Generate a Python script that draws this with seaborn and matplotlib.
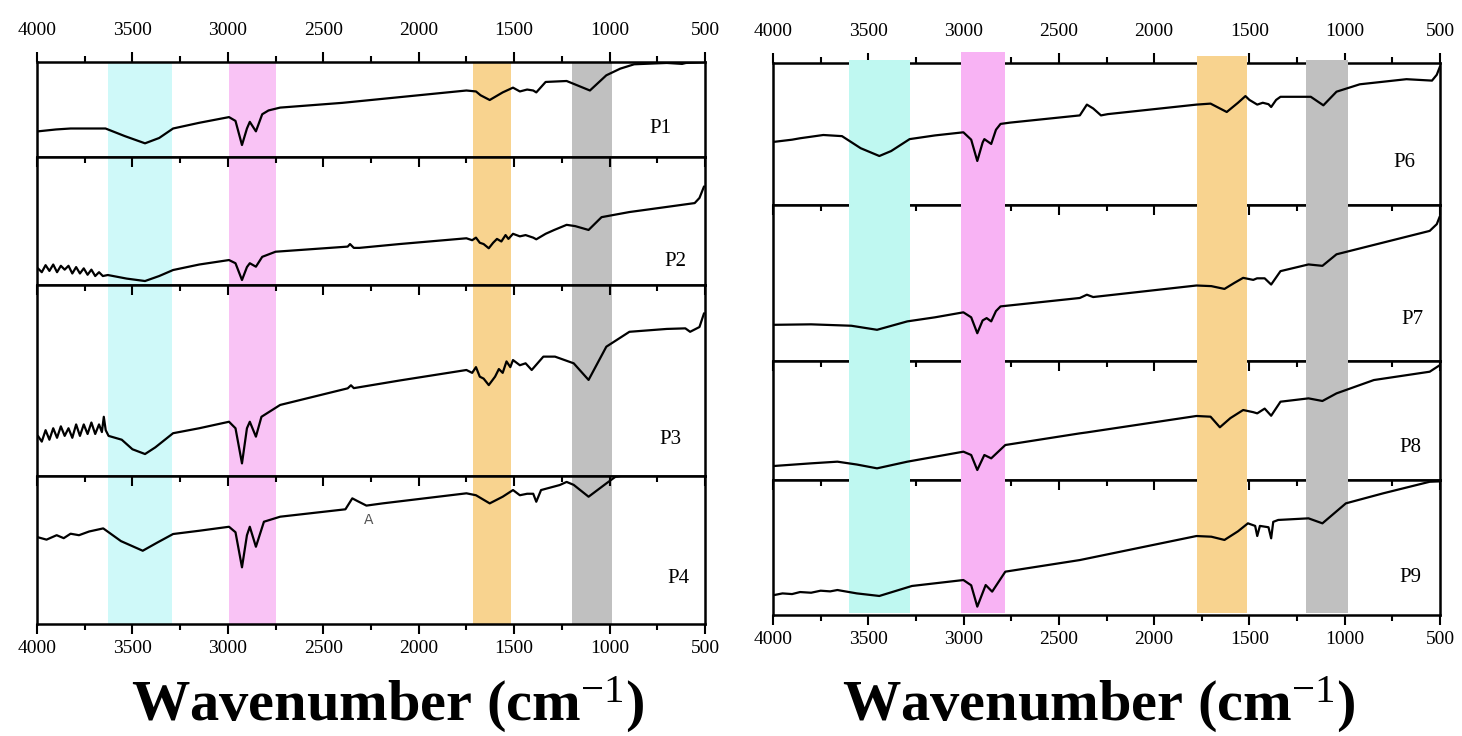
import matplotlib
matplotlib.use('Agg')
import matplotlib.pyplot as plt
from matplotlib.ticker import MultipleLocator
import pandas as pd
import seaborn as sns

# ---------------- data (y = fraction of sub-panel height) -------------
P1_wn = [3995, 3900, 3824, 3700, 3641, 3540, 3434, 3360, 3287, 3150, 2994, 2960, 2926, 2900, 2885, 2853,
         2820, 2787, 2726, 2400, 2100, 1750, 1700, 1676, 1628, 1560, 1506, 1470, 1432, 1400, 1384, 1335,
         1225, 1176, 1103, 1017, 944, 871, 700, 620, 600, 505]
P1_t = [0.27, 0.29, 0.30, 0.30, 0.30, 0.22, 0.144, 0.20, 0.30, 0.36, 0.42, 0.38, 0.126, 0.30, 0.37, 0.27,
        0.45, 0.49, 0.52, 0.57, 0.63, 0.70, 0.69, 0.65, 0.60, 0.68, 0.73, 0.69, 0.71, 0.70, 0.68, 0.79,
        0.80, 0.76, 0.70, 0.86, 0.93, 0.976, 0.99, 0.98, 0.99, 0.997]

P2_wn = [3995, 3975, 3955, 3935, 3915, 3895, 3875, 3855, 3835, 3815, 3795, 3775, 3755, 3735, 3715, 3695,
         3675, 3655, 3629, 3530, 3434, 3360, 3287, 3150, 2994, 2960, 2926, 2900, 2885, 2853, 2820, 2750,
         2372, 2360, 2340, 2311, 2100, 1750, 1720, 1700, 1680, 1660, 1633, 1610, 1590, 1567, 1545, 1530,
         1506, 1470, 1440, 1400, 1384, 1335, 1290, 1225, 1180, 1110, 1042, 896, 700, 554, 529, 505]
P2_t = [0.13, 0.10, 0.155, 0.11, 0.16, 0.10, 0.15, 0.12, 0.15, 0.09, 0.14, 0.09, 0.13, 0.08, 0.12, 0.07,
        0.10, 0.07, 0.078, 0.05, 0.031, 0.07, 0.117, 0.16, 0.195, 0.17, 0.039, 0.14, 0.17, 0.143, 0.22, 0.26,
        0.30, 0.32, 0.29, 0.29, 0.32, 0.365, 0.35, 0.37, 0.33, 0.32, 0.287, 0.33, 0.36, 0.34, 0.39, 0.36,
        0.40, 0.38, 0.39, 0.37, 0.357, 0.40, 0.43, 0.47, 0.46, 0.43, 0.53, 0.57, 0.61, 0.64, 0.68, 0.77]

P3_wn = [3995, 3975, 3955, 3935, 3915, 3895, 3875, 3855, 3835, 3815, 3795, 3775, 3755, 3735, 3715, 3695,
         3675, 3660, 3650, 3640, 3625, 3556, 3500, 3434, 3380, 3287, 3150, 2994, 2960, 2926, 2900, 2885,
         2853, 2824, 2726, 2372, 2355, 2340, 2100, 1750, 1720, 1700, 1680, 1660, 1633, 1600, 1580, 1560,
         1540, 1520, 1506, 1470, 1440, 1408, 1347, 1286, 1188, 1110, 1017, 896, 700, 603, 578, 529, 505]
P3_t = [0.21, 0.18, 0.24, 0.19, 0.25, 0.20, 0.26, 0.21, 0.25, 0.20, 0.27, 0.21, 0.27, 0.22, 0.28, 0.22,
        0.27, 0.23, 0.31, 0.24, 0.21, 0.19, 0.14, 0.115, 0.15, 0.224, 0.25, 0.284, 0.25, 0.066, 0.25, 0.284,
        0.206, 0.31, 0.372, 0.459, 0.475, 0.46, 0.50, 0.555, 0.54, 0.57, 0.52, 0.51, 0.476, 0.52, 0.56, 0.54,
        0.60, 0.57, 0.607, 0.58, 0.59, 0.555, 0.625, 0.625, 0.59, 0.503, 0.677, 0.755, 0.77, 0.773, 0.755,
        0.78, 0.852]

P4_wn = [3995, 3950, 3897, 3860, 3824, 3780, 3727, 3653, 3560, 3446, 3370, 3287, 3150, 2994, 2960, 2926,
         2900, 2885, 2853, 2811, 2726, 2384, 2348, 2320, 2274, 2189, 1750, 1700, 1628, 1560, 1506, 1470,
         1432, 1400, 1384, 1359, 1261, 1225, 1188, 1110, 1017, 969, 940, 500]
P4_t = [0.586, 0.57, 0.60, 0.58, 0.61, 0.60, 0.625, 0.646, 0.56, 0.495, 0.55, 0.608, 0.63, 0.657, 0.62, 0.383,
        0.60, 0.657, 0.522, 0.691, 0.725, 0.775, 0.849, 0.83, 0.80, 0.815, 0.883, 0.87, 0.815, 0.86, 0.905, 0.87,
        0.88, 0.88, 0.826, 0.905, 0.939, 0.96, 0.94, 0.86, 0.95, 0.995, 1.0, 1.0]

P6_wn = [3993, 3900, 3858, 3736, 3638, 3540, 3442, 3380, 3283, 3150, 3001, 2960, 2928, 2900, 2891, 2855,
         2830, 2806, 2757, 2390, 2353, 2320, 2279, 2243, 1778, 1704, 1619, 1560, 1521, 1500, 1459, 1430,
         1400, 1386, 1360, 1337, 1178, 1112, 1043, 921, 676, 542, 517, 500]
P6_t = [0.445, 0.46, 0.47, 0.493, 0.485, 0.40, 0.345, 0.38, 0.464, 0.49, 0.512, 0.46, 0.31, 0.44, 0.464, 0.43,
        0.53, 0.571, 0.58, 0.631, 0.707, 0.68, 0.631, 0.64, 0.707, 0.714, 0.655, 0.72, 0.767, 0.74, 0.707, 0.72,
        0.71, 0.69, 0.74, 0.762, 0.762, 0.702, 0.798, 0.85, 0.886, 0.876, 0.917, 0.976]

P7_wn = [3993, 3800, 3589, 3454, 3295, 3150, 3001, 2960, 2928, 2900, 2879, 2855, 2830, 2806, 2390, 2353,
         2320, 1778, 1700, 1631, 1580, 1533, 1480, 1460, 1420, 1386, 1337, 1190, 1117, 1043, 554, 517, 500]
P7_t = [0.232, 0.235, 0.226, 0.20, 0.254, 0.28, 0.312, 0.28, 0.178, 0.26, 0.275, 0.254, 0.32, 0.35, 0.404, 0.425,
        0.41, 0.484, 0.48, 0.462, 0.50, 0.533, 0.52, 0.53, 0.53, 0.49, 0.576, 0.619, 0.61, 0.684, 0.834, 0.877, 0.93]

P8_wn = [3993, 3800, 3662, 3560, 3454, 3295, 3001, 2960, 2928, 2891, 2855, 2781, 2390, 2353, 1778, 1704,
         1655, 1600, 1533, 1480, 1459, 1420, 1386, 1337, 1190, 1117, 1043, 847, 554, 500]
P8_t = [0.118, 0.14, 0.154, 0.13, 0.098, 0.154, 0.238, 0.21, 0.084, 0.21, 0.182, 0.294, 0.392, 0.40, 0.538, 0.532,
        0.443, 0.52, 0.588, 0.57, 0.56, 0.60, 0.54, 0.658, 0.686, 0.664, 0.728, 0.84, 0.91, 0.966]

P9_wn = [3993, 3950, 3900, 3858, 3800, 3750, 3700, 3662, 3560, 3442, 3271, 3001, 2960, 2928, 2884, 2850,
         2781, 2390, 1778, 1700, 1631, 1560, 1508, 1470, 1459, 1445, 1400, 1386, 1375, 1349, 1190, 1117,
         994, 799, 554, 500]
P9_t = [0.148, 0.16, 0.155, 0.17, 0.165, 0.18, 0.175, 0.185, 0.16, 0.141, 0.215, 0.259, 0.22, 0.062, 0.222, 0.173,
        0.321, 0.407, 0.585, 0.58, 0.556, 0.62, 0.679, 0.66, 0.585, 0.66, 0.65, 0.568, 0.69, 0.704, 0.716, 0.679,
        0.827, 0.901, 0.987, 0.99]

left_names = ['P1', 'P2', 'P3', 'P4']
right_names = ['P6', 'P7', 'P8', 'P9']
spectra = {'P1': (P1_wn, P1_t), 'P2': (P2_wn, P2_t), 'P3': (P3_wn, P3_t), 'P4': (P4_wn, P4_t),
           'P6': (P6_wn, P6_t), 'P7': (P7_wn, P7_t), 'P8': (P8_wn, P8_t), 'P9': (P9_wn, P9_t)}

left_bands = [(3628, 3293), (2994, 2748), (1716, 1516), (1197, 987)]
right_bands = [(3601, 3281), (3013, 2782), (1775, 1513), (1203, 983)]
left_band_colors = ['#cff9f9', '#f9c3f5', '#f8d38f', '#c0c0c0']
right_band_colors = ['#bff8f1', '#f8b3f4', '#f8d38f', '#c0c0c0']

tick_values = [4000, 3500, 3000, 2500, 2000, 1500, 1000, 500]
xlabel_text = 'Wavenumber (cm$^{-1}$)'

# ---------------- style ----------------
sns.set_theme(style='ticks')
plt.rcParams['font.family'] = ['Liberation Serif', 'DejaVu Serif']
plt.rcParams['mathtext.fontset'] = 'custom'
plt.rcParams['mathtext.rm'] = 'Liberation Serif'
plt.rcParams['mathtext.it'] = 'Liberation Serif:italic'
plt.rcParams['mathtext.bf'] = 'Liberation Serif:bold'

W, H = 1462, 736
fig = plt.figure(figsize=(W / 100, H / 100), dpi=100)

panels = [
    dict(x0=37, x1=705, bounds=[62, 157, 285, 476, 624], names=left_names, bands=left_bands,
         colors=left_band_colors, cover=False,
         labpos=[(0.933, 0.305), (0.955, 0.18), (0.948, 0.19), (0.96, 0.31)], xlab=388),
    dict(x0=773, x1=1440, bounds=[63, 205, 361, 480, 615], names=right_names, bands=right_bands,
         colors=right_band_colors, cover=True,
         labpos=[(0.947, 0.30), (0.958, 0.265), (0.955, 0.277), (0.955, 0.28)], xlab=1099),
]

for p in panels:
    n = len(p['names'])
    for i, name in enumerate(p['names']):
        b0, b1 = p['bounds'][i], p['bounds'][i + 1]
        hpx = b1 - b0
        ax = fig.add_axes([p['x0'] / W, 1 - b1 / H, (p['x1'] - p['x0']) / W, hpx / H])
        wn, t = spectra[name]
        df = pd.DataFrame({'wn': wn, 't': t})
        sns.lineplot(data=df, x='wn', y='t', ax=ax, color='black', linewidth=1.6,
                     estimator=None, sort=False, zorder=3)
        ax.set_xlim(4000, 500)
        ax.set_ylim(0, 1)
        ax.set_xlabel('')
        ax.set_ylabel('')
        ax.set_yticks([])

        # shaded bands
        e = 2.0 / hpx
        for k, ((hi, lo), col) in enumerate(zip(p['bands'], p['colors'])):
            if p['cover']:
                ymin = e if i == n - 1 else -e
                ymax = 1 + e
                if i == 0:
                    ymax = 1 + [1.0, 9.0, 5.0, 1.0][k] / hpx + e
                ax.axvspan(hi, lo, ymin=ymin, ymax=ymax, color=col, lw=0, zorder=2.6, clip_on=False)
            else:
                ax.axvspan(hi, lo, color=col, lw=0, zorder=1)
        ax.set_axisbelow(p['cover'])

        for s in ax.spines.values():
            s.set_linewidth(1.8)
            s.set_color('black')

        ax.set_xticks(tick_values)
        ax.xaxis.set_minor_locator(MultipleLocator(250))
        ax.tick_params(axis='x', which='both', bottom=False, top=True, labelbottom=False,
                       labeltop=(i == 0), direction='out' if i == 0 else 'in',
                       width=1.5, color='black', labelsize=14, pad=9, labelcolor='black')
        ax.tick_params(axis='x', which='major', length=7.5)
        ax.tick_params(axis='x', which='minor', length=4)

        lx, ly = p['labpos'][i]
        ax.text(lx, ly, name, transform=ax.transAxes, ha='center', va='center', fontsize=15,
                color='black', zorder=5)

        if name == 'P4':
            ax.text(2262, 0.70, 'A', ha='center', va='center', fontsize=10, color='#555555',
                    family='DejaVu Sans', zorder=5)

        if i == n - 1:
            sec = ax.secondary_xaxis('bottom')
            sec.set_xticks(tick_values)
            sec.xaxis.set_minor_locator(MultipleLocator(250))
            sec.tick_params(axis='x', which='both', direction='out', width=1.5, color='black',
                            labelsize=14, pad=4, labelcolor='black')
            sec.tick_params(axis='x', which='major', length=7.5)
            sec.tick_params(axis='x', which='minor', length=4)
            sec.spines['bottom'].set_visible(False)

    fig.text(p['xlab'] / W, 1 - 721 / H, xlabel_text, ha='center', va='baseline',
             fontsize=42, fontweight='bold', color='black')

fig.savefig('out.png', dpi=100)
